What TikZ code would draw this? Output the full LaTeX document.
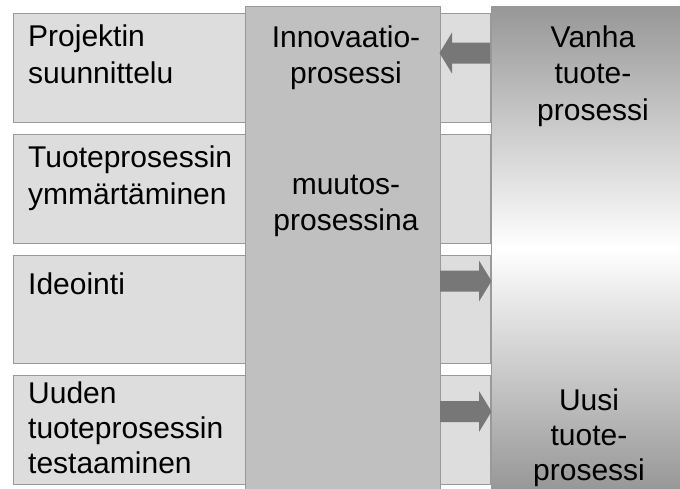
\documentclass[tikz,border=0pt]{standalone}
\usepackage{fontspec}
\setmainfont{Liberation Sans}
\definecolor{stripfill}{HTML}{DDDDDD}
\definecolor{midfill}{HTML}{C0C0C0}
\definecolor{edgegray}{HTML}{999999}
\definecolor{fadegray}{HTML}{979797}
\definecolor{arrowgray}{HTML}{777777}
\begin{document}
\begin{tikzpicture}[x=1pt,y=-1pt,
  stripbox/.style={rectangle,draw=edgegray,fill=stripfill,line width=1pt,
    inner sep=0pt,anchor=north west,minimum width=477pt,minimum height=108.5pt},
  midbox/.style={rectangle,draw=edgegray,fill=midfill,line width=1pt,
    inner sep=0pt,anchor=north west,minimum width=195pt,minimum height=484pt},
  fadebox/.style={rectangle,draw=edgegray,line width=0.8pt,
    top color=fadegray,bottom color=fadegray,middle color=white,
    inner sep=0pt,anchor=north west,minimum width=191pt,minimum height=484pt},
  % multi-line texts are placed by the baseline of their last line
  lefttext/.style={anchor=base west,align=left,inner sep=0pt,
    font=\fontsize{30}{36.5}\selectfont},
  ctext/.style={anchor=base,align=center,inner sep=0pt,
    font=\fontsize{30}{36}\selectfont},
  blockarrow/.style={fill=arrowgray,draw=none}
]
\useasboundingbox (0,0) rectangle (680,488);

% four process steps on the left
\node[stripbox] (plan)  at (13,13)    {};
\node[stripbox] (under) at (13,134)   {};
\node[stripbox] (idea)  at (13,254.5) {};
\node[stripbox] (test)  at (13,375)   {};

\node[lefttext] (planT)  at (28,83)   {Projektin\\suunnittelu};
\node[lefttext] (underT) at (28,204)  {Tuoteprosessin\\ymmärtäminen};
\node[lefttext] (ideaT)  at (28,294)  {Ideointi};
\node[lefttext,font=\fontsize{30}{35}\selectfont] (testT) at (28,473)
  {Uuden\\tuoteprosessin\\testaaminen};

% central innovation process column
\node[midbox] (mid) at (245,6) {};
\node[ctext] (midT1) at (346,83.5) {Innovaatio-\\prosessi};
\node[ctext] (midT2) at (346,230)  {muutos-\\prosessina};

% product process column, old at the top, new at the bottom
\node[fadebox] (prod) at (491,6) {};
\node[ctext,font=\fontsize{30}{36.5}\selectfont] (oldT) at (593,120) {Vanha\\tuote-\\prosessi};
\node[ctext,font=\fontsize{30}{35}\selectfont] (newT) at (589,480) {Uusi\\tuote-\\prosessi};

% block arrows between the columns
\fill[blockarrow] (490,42.5) -- (452,42.5) -- (452,32.5) -- (439.5,53)
  -- (452,73.5) -- (452,63.5) -- (490,63.5) -- cycle;
\fill[blockarrow] (440,270.5) -- (479,270.5) -- (479,260.5) -- (491.5,281)
  -- (479,301.5) -- (479,291.5) -- (440,291.5) -- cycle;
\fill[blockarrow] (440,401) -- (479,401) -- (479,391) -- (491.5,411.5)
  -- (479,432) -- (479,422) -- (440,422) -- cycle;
\end{tikzpicture}
\end{document}
